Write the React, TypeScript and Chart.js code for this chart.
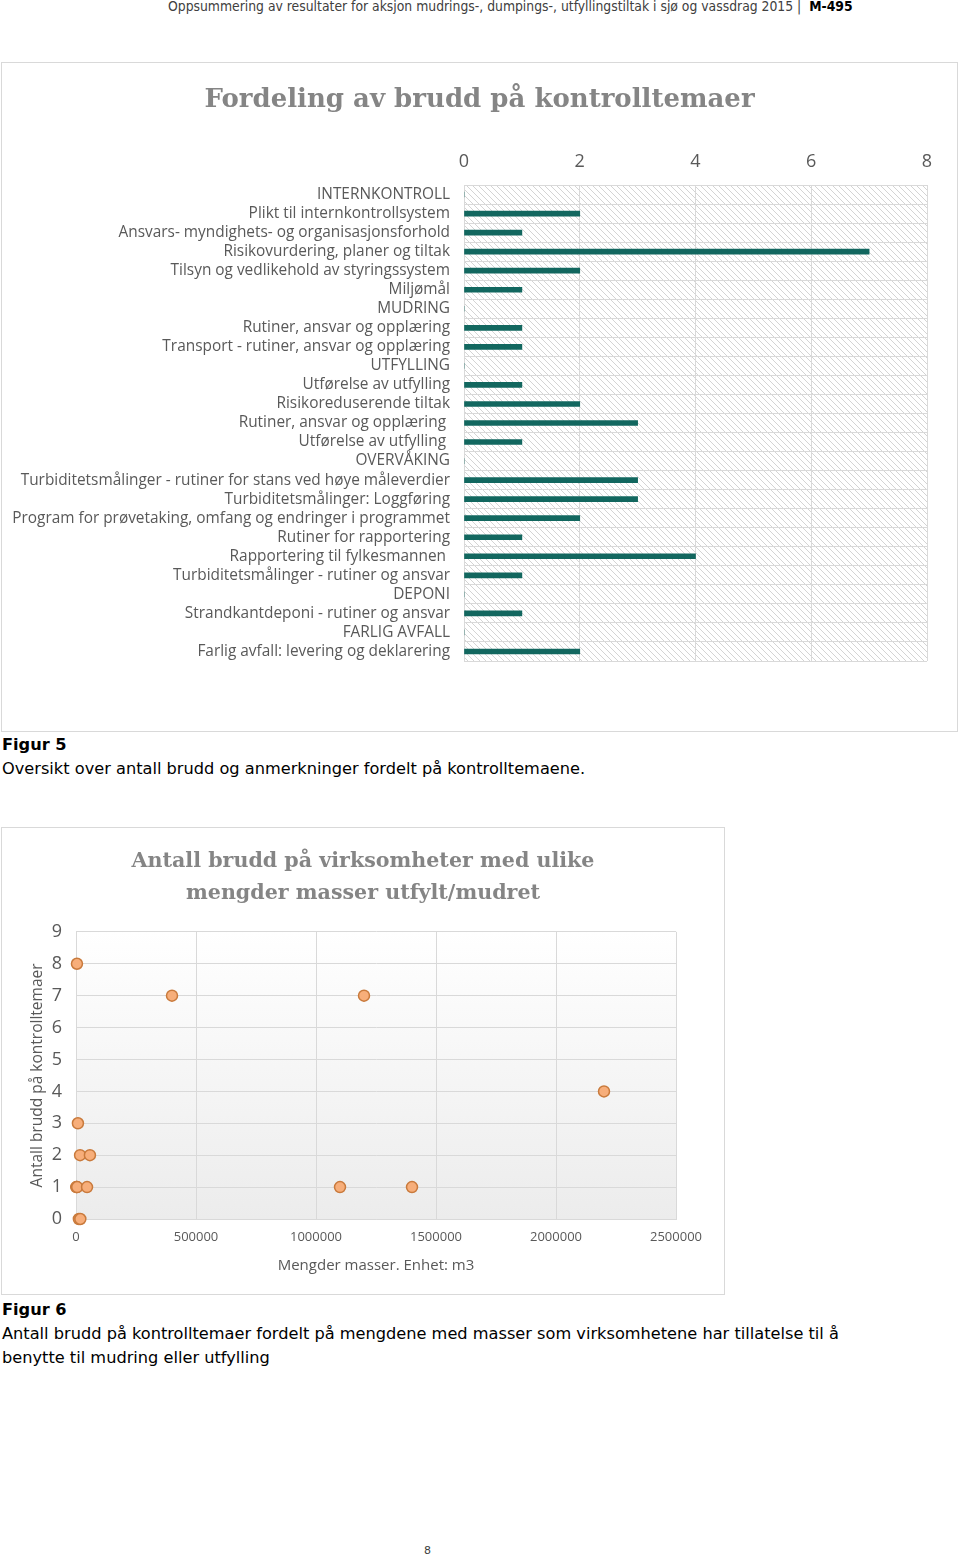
import React, { useEffect, useRef } from "react";
import { Chart, registerables } from "chart.js";

Chart.register(...registerables);

const barCategories: string[] = [
  "INTERNKONTROLL",
  "Plikt til internkontrollsystem",
  "Ansvars- myndighets- og organisasjonsforhold",
  "Risikovurdering, planer og tiltak",
  "Tilsyn og vedlikehold av styringssystem",
  "Miljømål",
  "MUDRING",
  "Rutiner, ansvar og opplæring",
  "Transport - rutiner, ansvar og opplæring",
  "UTFYLLING",
  "Utførelse av utfylling",
  "Risikoreduserende tiltak",
  "Rutiner, ansvar og opplæring ",
  "Utførelse av utfylling ",
  "OVERVÅKING",
  "Turbiditetsmålinger - rutiner for stans ved høye måleverdier",
  "Turbiditetsmålinger: Loggføring",
  "Program for prøvetaking, omfang og endringer i programmet",
  "Rutiner for rapportering",
  "Rapportering til fylkesmannen ",
  "Turbiditetsmålinger - rutiner og ansvar",
  "DEPONI",
  "Strandkantdeponi - rutiner og ansvar",
  "FARLIG AVFALL",
  "Farlig avfall: levering og deklarering",
];

const barValues: number[] = [0, 2, 1, 7, 2, 1, 0, 1, 1, 0, 1, 2, 3, 1, 0, 3, 3, 2, 1, 4, 1, 0, 1, 0, 2];

const barTicks: number[] = [0, 2, 4, 6, 8];

const scatterMasses: number[] = [
  4000, 400000, 1200000, 2200000, 8000, 17000, 58000, 1100000, 1400000, 1000, 3000, 5000, 46000, 12000, 18000,
];
const scatterBreaches: number[] = [8, 7, 7, 4, 3, 2, 2, 1, 1, 1, 1, 1, 1, 0, 0];

const barTitle = "Fordeling av brudd på kontrolltemaer";
const scatterTitle: string[] = ["Antall brudd på virksomheter med ulike", "mengder masser utfylt/mudret"];
const scatterXTitle = "Mengder masser. Enhet: m3";
const scatterYTitle = "Antall brudd på kontrolltemaer";

const LABEL_FONT = "'Open Sans', sans-serif";
const TITLE_FONT = "'DejaVu Serif', serif";
const GREY = "#595959";
const GRID = "#d9d9d9";

// centre the chart title over the whole canvas, not only inside the padding
const fullWidthTitle = {
  id: "fullWidthTitle",
  afterLayout(chart: any) {
    const t = chart.titleBlock;
    if (t) {
      t.left = 0;
      t.right = chart.width;
      t.width = chart.width;
    }
  },
};

function makeHatch(): CanvasPattern | string {
  const c = document.createElement("canvas");
  c.width = 6;
  c.height = 6;
  const ctx = c.getContext("2d");
  if (!ctx) return "#fff";
  ctx.fillStyle = "#ffffff";
  ctx.fillRect(0, 0, 6, 6);
  ctx.strokeStyle = "#d4d4d4";
  ctx.lineWidth = 1;
  ctx.beginPath();
  ctx.moveTo(0, 0);
  ctx.lineTo(6, 6);
  ctx.moveTo(-3, 3);
  ctx.lineTo(3, 9);
  ctx.moveTo(3, -3);
  ctx.lineTo(9, 3);
  ctx.stroke();
  const p = ctx.createPattern(c, "repeat");
  return p || "#fff";
}

function BarChart() {
  const ref = useRef<HTMLCanvasElement>(null);
  useEffect(() => {
    if (!ref.current) return;
    const hatchPlugin = {
      id: "hatch",
      beforeDraw(chart: any) {
        const { ctx, chartArea } = chart;
        ctx.save();
        ctx.fillStyle = makeHatch();
        ctx.fillRect(chartArea.left, chartArea.top, chartArea.right - chartArea.left, chartArea.bottom - chartArea.top);
        ctx.restore();
      },
    };
    const chart = new Chart(ref.current, {
      type: "bar",
      data: {
        labels: barCategories,
        datasets: [
          {
            data: barValues,
            backgroundColor: "#12675f",
            barThickness: 5,
          },
        ],
      },
      plugins: [hatchPlugin, fullWidthTitle],
      options: {
        indexAxis: "y",
        animation: false,
        responsive: false,
        layout: { padding: { left: 0, right: 30, top: 0, bottom: 70 } },
        plugins: {
          legend: { display: false },
          tooltip: { enabled: false },
          title: {
            display: true,
            text: barTitle,
            color: "#858585",
            font: { family: TITLE_FONT, size: 26, weight: "bold", lineHeight: 1.2 },
            padding: { top: 22, bottom: 28.8 },
          },
        },
        scales: {
          x: {
            position: "top",
            min: 0,
            max: 8,
            afterBuildTicks(scale: any) {
              scale.ticks = barTicks.map((v) => ({ value: v }));
            },
            afterFit(scale: any) {
              scale.height = 40;
            },
            ticks: { color: GREY, font: { family: LABEL_FONT, size: 18 }, padding: 12 },
            grid: { color: GRID, drawTicks: false },
            border: { display: false },
          },
          y: {
            afterFit(scale: any) {
              scale.width = 462;
            },
            ticks: { color: GREY, font: { family: LABEL_FONT, size: 15.4 }, padding: 14, autoSkip: false },
            grid: { color: GRID, drawTicks: false, offset: true },
            border: { display: true, color: GRID },
          },
        },
      },
    });
    return () => chart.destroy();
  }, []);
  return <canvas ref={ref} width={955} height={668} style={{ display: "block" }} />;
}

function ScatterChart() {
  const ref = useRef<HTMLCanvasElement>(null);
  useEffect(() => {
    if (!ref.current) return;
    const bgPlugin = {
      id: "bggrad",
      beforeDraw(chart: any) {
        const { ctx, chartArea } = chart;
        const g = ctx.createLinearGradient(0, chartArea.top, 0, chartArea.bottom);
        g.addColorStop(0, "#ffffff");
        g.addColorStop(1, "#ececec");
        ctx.save();
        ctx.fillStyle = g;
        ctx.fillRect(chartArea.left, chartArea.top, chartArea.right - chartArea.left, chartArea.bottom - chartArea.top);
        ctx.restore();
      },
    };
    const chart = new Chart(ref.current, {
      type: "scatter",
      data: {
        datasets: [
          {
            data: scatterMasses.map((x, i) => ({ x, y: scatterBreaches[i] })),
            backgroundColor: "#f7ae7a",
            borderColor: "#c97a3c",
            borderWidth: 1.5,
            pointRadius: 5.5,
            clip: false,
          },
        ],
      },
      plugins: [bgPlugin, fullWidthTitle],
      options: {
        animation: false,
        responsive: false,
        layout: { padding: { left: 0, right: 48, top: 0, bottom: 15 } },
        plugins: {
          legend: { display: false },
          tooltip: { enabled: false },
          title: {
            display: true,
            text: scatterTitle,
            color: "#858585",
            font: { family: TITLE_FONT, size: 20.6, weight: "bold", lineHeight: 1.55 },
            padding: { top: 18, bottom: 22 },
          },
        },
        scales: {
          x: {
            type: "linear",
            min: 0,
            max: 2500000,
            afterFit(scale: any) {
              scale.height = 60;
            },
            ticks: { stepSize: 500000, color: GREY, font: { family: LABEL_FONT, size: 13 }, padding: 10, callback: (v: any) => String(v) },
            grid: { color: GRID, drawTicks: false },
            border: { display: true, color: GRID },
            title: { display: true, text: scatterXTitle, color: GREY, font: { family: LABEL_FONT, size: 15 }, padding: { top: 15 } },
          },
          y: {
            min: 0,
            max: 9,
            afterFit(scale: any) {
              scale.width = 74;
            },
            ticks: { stepSize: 1, color: GREY, font: { family: LABEL_FONT, size: 18 }, padding: 14 },
            grid: { color: GRID, drawTicks: false },
            border: { display: true, color: GRID },
            title: { display: true, text: scatterYTitle, color: GREY, font: { family: LABEL_FONT, size: 15.5 }, padding: { top: 26 } },
          },
        },
      },
    });
    return () => chart.destroy();
  }, []);
  return <canvas ref={ref} width={722} height={466} style={{ display: "block" }} />;
}

const captionFont = "'DejaVu Sans', sans-serif";

export default function App() {
  return (
    <div style={{ position: "absolute", left: 0, top: 0, width: 960, height: 1558, background: "#fff", overflow: "hidden" }}>
      <div
        style={{
          position: "absolute",
          left: 168,
          top: -2,
          width: 720,
          fontFamily: "'DejaVu Sans Condensed', sans-serif",
          fontSize: 13.8,
          color: "#404040",
          whiteSpace: "pre",
        }}
      >
        {"Oppsummering av resultater for aksjon mudrings-, dumpings-, utfyllingstiltak i sjø og vassdrag 2015 |  "}
        <b style={{ color: "#000" }}>M-495</b>
      </div>
      <div style={{ position: "absolute", left: 1, top: 62, width: 955, height: 668, border: "1px solid #d9d9d9" }}>
        <BarChart />
      </div>
      <div style={{ position: "absolute", left: 2, top: 733, fontFamily: captionFont, fontSize: 16.2, color: "#000", lineHeight: "24px" }}>
        <div style={{ fontWeight: "bold" }}>Figur 5</div>
        <div>Oversikt over antall brudd og anmerkninger fordelt på kontrolltemaene.</div>
      </div>
      <div style={{ position: "absolute", left: 1, top: 827, width: 722, height: 466, border: "1px solid #d9d9d9" }}>
        <ScatterChart />
      </div>
      <div
        style={{ position: "absolute", left: 2, top: 1298, width: 850, fontFamily: captionFont, fontSize: 16.2, color: "#000", lineHeight: "24px" }}
      >
        <div style={{ fontWeight: "bold" }}>Figur 6</div>
        <div>
          Antall brudd på kontrolltemaer fordelt på mengdene med masser som virksomhetene har tillatelse til å
          <br />
          benytte til mudring eller utfylling
        </div>
      </div>
      <div style={{ position: "absolute", left: 424, top: 1544, fontFamily: captionFont, fontSize: 11, color: "#404040" }}>8</div>
    </div>
  );
}
